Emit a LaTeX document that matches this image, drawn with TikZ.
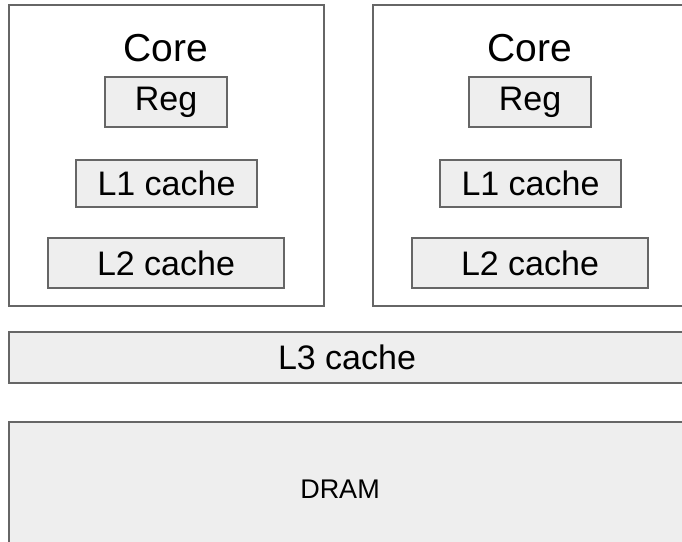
\documentclass[tikz,border=0pt]{standalone}
\usepackage{fontspec}
\setmainfont{Liberation Sans}
\definecolor{edge}{HTML}{666666}
\definecolor{cell}{HTML}{EEEEEE}
\begin{document}
\begin{tikzpicture}[x=1pt,y=-1pt,
  unit/.style={draw=edge,line width=2pt,fill=cell,inner sep=0pt,
    font=\fontsize{34}{40}\selectfont},
  corebox/.style={draw=edge,line width=2pt,fill=white,inner sep=0pt},
  title/.style={inner sep=0pt,font=\fontsize{39}{44}\selectfont}]
\useasboundingbox (0,0) rectangle (682,541);
\clip (0,0) rectangle (682,541);
% two cores, each with its private levels
\foreach \s/\c in {0/a,364/b}{
  \node[corebox,minimum width=315.5pt,minimum height=301pt] (core\c) at (166.25+\s,155.5) {};
  \node[title] (title\c) at (166+\s,48) {Core};
  \node[unit,minimum width=122pt,minimum height=50pt] (reg\c) at (166+\s,102) {Reg};
  \node[unit,minimum width=181pt,minimum height=47pt] (lone\c) at (166.5+\s,183.5) {L1 cache};
  \node[unit,minimum width=236pt,minimum height=50pt] (ltwo\c) at (166+\s,263) {L2 cache};
}
% shared levels
\node[unit,minimum width=677pt,minimum height=51pt] (lthree) at (347,357.5) {L3 cache};
\node[unit,minimum width=677pt,minimum height=134pt] (dram) at (347,489) {};
\node[inner sep=0pt,font=\fontsize{27}{32}\selectfont] (dramtext) at (340,489) {DRAM};
\end{tikzpicture}
\end{document}
